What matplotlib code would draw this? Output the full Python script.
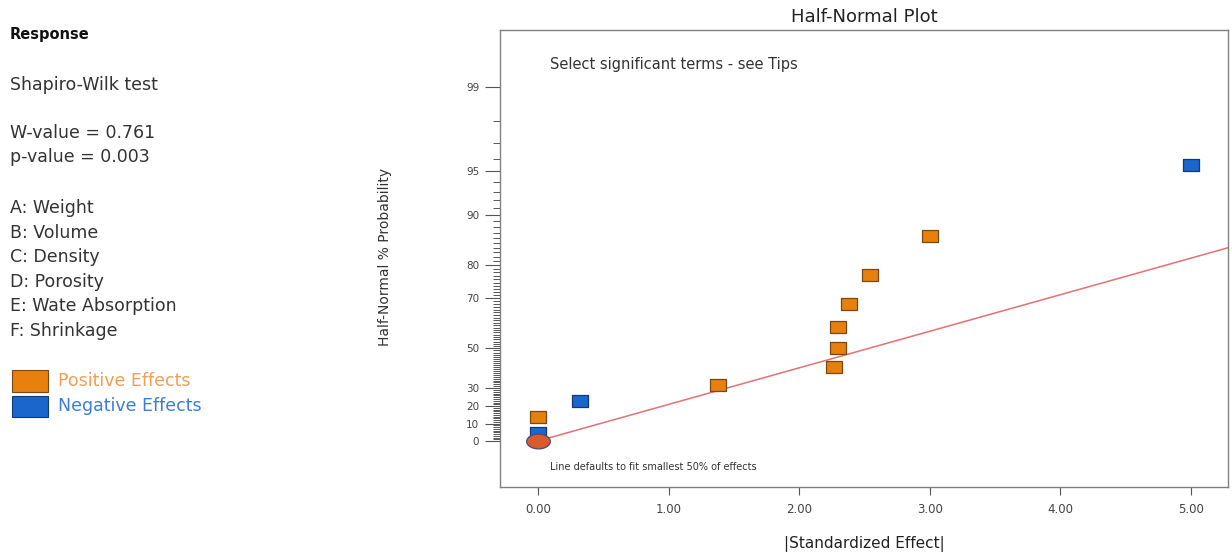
import numpy as np
import matplotlib
matplotlib.use('Agg')
from matplotlib import pyplot as plt
from matplotlib.path import Path
from statistics import NormalDist

# effects: |standardized effect| and half-normal % probability
pos_effect = [0.00, 1.38, 2.27, 2.30, 2.30, 2.38, 2.54, 3.00]
pos_prob = [13.6, 31.8, 40.9, 50.0, 59.1, 68.2, 77.3, 86.4]
neg_effect = [0.00, 0.32, 5.00]
neg_prob = [4.5, 22.7, 95.5]
error_effect = [0.00]
error_prob = [0.0]
fit_slope = 0.266          # z per unit effect, line through the origin
fit_x = [0.0, 5.5]

y_major = [0, 10, 20, 30, 50, 70, 80, 90, 95, 99]
x_major = [0, 1, 2, 3, 4, 5]
factors = ['A: Weight', 'B: Volume', 'C: Density', 'D: Porosity',
           'E: Wate Absorption', 'F: Shrinkage']

nd = NormalDist()


def to_z(p):
    p = np.asarray(p, dtype=float)
    res = np.zeros(p.size)
    for i, v in enumerate(p.ravel()):
        if not np.isfinite(v):
            res[i] = v
            continue
        a = min(abs(v), 99.99999)
        res[i] = np.sign(v) * nd.inv_cdf(0.5 + a / 200.0)
    return res.reshape(p.shape)


def to_p(z):
    z = np.asarray(z, dtype=float)
    res = np.zeros(z.size)
    for i, v in enumerate(z.ravel()):
        if not np.isfinite(v):
            res[i] = v
            continue
        res[i] = np.sign(v) * (2 * nd.cdf(abs(v)) - 1) * 100
    return res.reshape(z.shape)


rect = Path([(-1.4, -1), (1.4, -1), (1.4, 1), (-1.4, 1), (-1.4, -1)],
            [Path.MOVETO, Path.LINETO, Path.LINETO, Path.LINETO, Path.CLOSEPOLY])
t = np.linspace(0, 2 * np.pi, 60)
oval = Path(np.column_stack([1.6 * np.cos(t), np.sin(t)]))

fig = plt.figure(figsize=(12.32, 5.53), dpi=100)
ax = fig.add_axes([500 / 1232, 1 - 487 / 553, 728 / 1232, 457 / 553])
ax.set_yscale('function', functions=(to_z, to_p))

fit_p = to_p(fit_slope * np.array(fit_x))
ax.plot(fit_x, fit_p, color='#E86F72', lw=1.1, zorder=2)

ax.plot(pos_effect, pos_prob, ls='none', marker=rect, ms=11.5,
        mfc='#E8800E', mec='#7A4810', mew=0.9, zorder=3)
ax.plot(neg_effect, neg_prob, ls='none', marker=rect, ms=11.5,
        mfc='#1A66CC', mec='#0D3A78', mew=0.9, zorder=3)
ax.plot(error_effect, error_prob, ls='none', marker=oval, ms=17,
        mfc='#D95A2B', mec='#4A4A80', mew=0.9, zorder=4)

ax.set_xlim(-0.29, 5.283)
ax.set_ylim(-26.2, 99.72)

ax.set_xticks(x_major)
ax.set_xticklabels(['%.2f' % v for v in x_major])
ax.set_yticks(y_major)
ax.set_yticklabels([str(v) for v in y_major])
ax.set_yticks([v for v in range(1, 99) if v not in y_major], minor=True)

ax.tick_params(axis='x', which='major', direction='out', length=5.8, width=0.8,
               color='#555555', labelsize=8.5, labelcolor='#444444', pad=6)
ax.tick_params(axis='y', which='major', direction='out', length=11, width=0.8,
               color='#555555', labelsize=7.5, labelcolor='#444444', pad=4)
ax.tick_params(axis='y', which='minor', direction='out', length=5, width=0.7,
               color='#555555')
for s in ax.spines.values():
    s.set_color('#808080')
    s.set_linewidth(1.0)

ax.set_title('Half-Normal Plot', fontsize=13, color='#222222', pad=6)
ax.set_xlabel('|Standardized Effect|', fontsize=11, color='#222222', labelpad=14)
fig.text(385 / 1232, 1 - 257 / 553, 'Half-Normal % Probability', rotation=90,
         ha='center', va='center', fontsize=10, color='#333333')

ax.text(0.068, 0.925, 'Select significant terms - see Tips', transform=ax.transAxes,
        fontsize=10.5, color='#333333', va='center')
ax.text(0.068, 0.044, 'Line defaults to fit smallest 50% of effects',
        transform=ax.transAxes, fontsize=7, color='#333333', va='center')

# left info panel
fig.text(10 / 1232, 1 - 35 / 553, 'Response', fontsize=10.5, fontweight='bold',
         color='#111111', va='center')
fig.text(10 / 1232, 1 - 85 / 553, 'Shapiro-Wilk test', fontsize=12.5,
         color='#333333', va='center')
fig.text(10 / 1232, 1 - 133 / 553, 'W-value = 0.761', fontsize=12.5,
         color='#333333', va='center')
fig.text(10 / 1232, 1 - 157 / 553, 'p-value = 0.003', fontsize=12.5,
         color='#333333', va='center')
for i, f in enumerate(factors):
    fig.text(10 / 1232, 1 - (208 + 24.6 * i) / 553, f, fontsize=12.5,
             color='#333333', va='center')

fig.patches.append(plt.Rectangle((12 / 1232, 1 - 392 / 553), 36 / 1232, 22 / 553,
                                 transform=fig.transFigure, facecolor='#E8800E',
                                 edgecolor='#7A4810', lw=0.8))
fig.patches.append(plt.Rectangle((12 / 1232, 1 - 417 / 553), 36 / 1232, 21 / 553,
                                 transform=fig.transFigure, facecolor='#1A66CC',
                                 edgecolor='#0D3A78', lw=0.8))
fig.text(58 / 1232, 1 - 381 / 553, 'Positive Effects', fontsize=12.5,
         color='#F0A055', va='center')
fig.text(58 / 1232, 1 - 406 / 553, 'Negative Effects', fontsize=12.5,
         color='#3C7DD8', va='center')

fig.savefig('out.png', dpi=100)
